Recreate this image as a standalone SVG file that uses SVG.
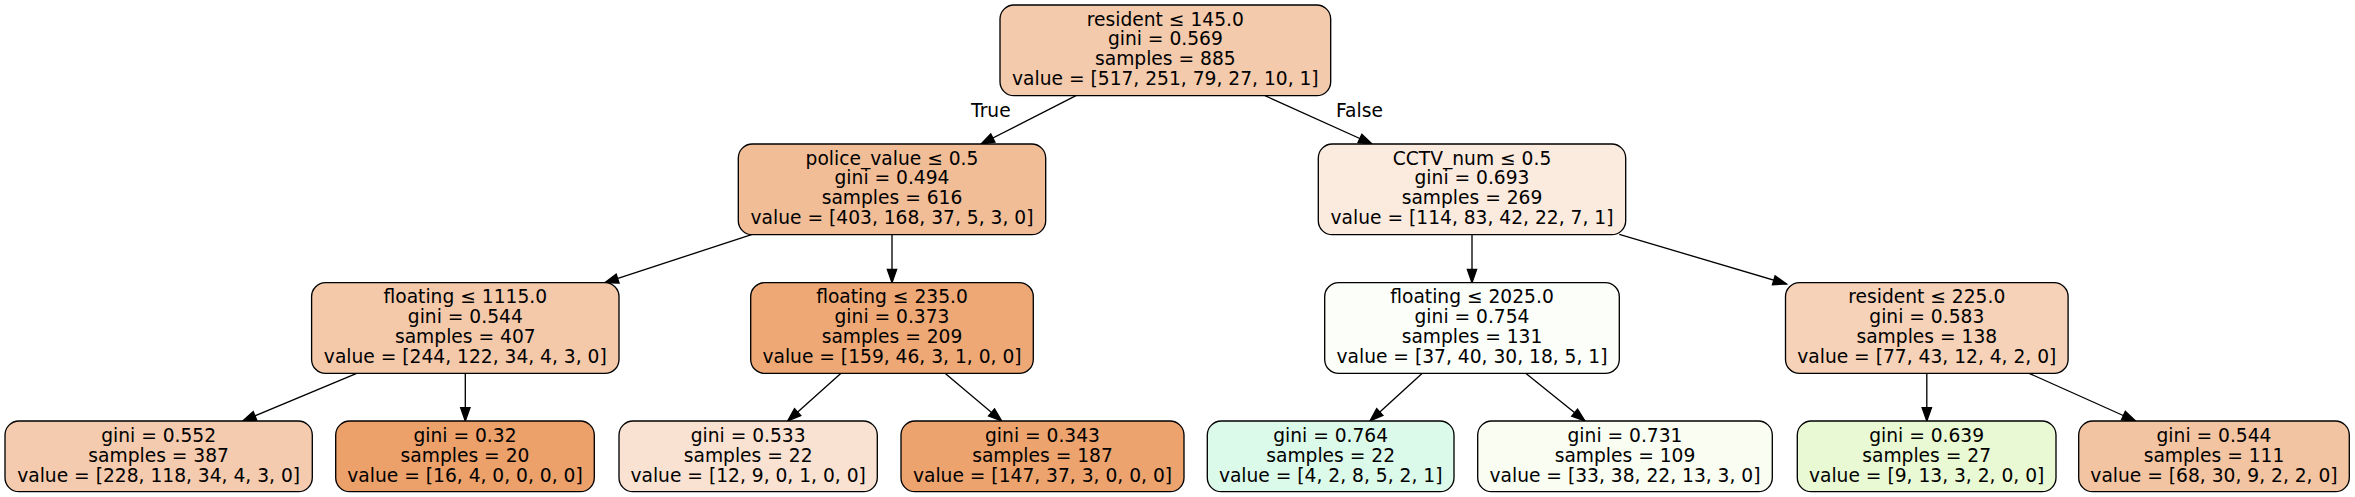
<svg xmlns="http://www.w3.org/2000/svg" width="2355" height="497" viewBox="0 0 2355 497">
<defs>
<style>
.box{stroke:#000;stroke-width:1.33}
text{font-family:"DejaVu Sans","Liberation Sans",sans-serif;font-size:18.67px;fill:#000;text-anchor:middle}
.edge line{stroke:#000;stroke-width:1.33;marker-end:url(#arr)}
</style>
<marker id="arr" markerUnits="userSpaceOnUse" markerWidth="16" markerHeight="12" refX="13.3" refY="4.67" orient="auto" overflow="visible">
<path d="M0,0 L13.3,4.67 L0,9.33 z" fill="#000" stroke="#000" stroke-width="1.33"/>
</marker>
</defs>
<rect width="2355" height="497" fill="#fff"/>
<g id="edges" class="edge">
<line x1="1076" y1="95.7" x2="981" y2="144"/>
<line x1="1265" y1="95.7" x2="1372" y2="144"/>
<line x1="752.3" y1="234.3" x2="605" y2="282.7"/>
<line x1="892" y1="234.7" x2="892" y2="282.7"/>
<line x1="1472" y1="234.7" x2="1472" y2="282.7"/>
<line x1="1619.3" y1="234.3" x2="1786.5" y2="284"/>
<line x1="356.7" y1="373.3" x2="242.7" y2="421"/>
<line x1="465.3" y1="373.3" x2="465.3" y2="421"/>
<line x1="841" y1="373.3" x2="787.7" y2="421"/>
<line x1="945" y1="373.3" x2="1001.7" y2="421"/>
<line x1="1422.3" y1="373.3" x2="1370" y2="421"/>
<line x1="1525.7" y1="373.3" x2="1585" y2="421"/>
<line x1="1926.8" y1="373.3" x2="1926.8" y2="421"/>
<line x1="2029" y1="373.3" x2="2135.5" y2="421"/>
<text x="990.8" y="117.3">True</text>
<text x="1359.5" y="117.3">False</text>
</g>
<g id="n0">
<rect class="box" x="1000" y="5" width="330.7" height="90.7" rx="14" fill="#f4caac"/>
<text x="1165.35" y="25.5">resident ≤ 145.0</text>
<text x="1165.35" y="45.3">gini = 0.569</text>
<text x="1165.35" y="65.1">samples = 885</text>
<text x="1165.35" y="84.9">value = [517, 251, 79, 27, 10, 1]</text>
</g>
<g id="n1">
<rect class="box" x="738.3" y="144" width="307.4" height="90.7" rx="14" fill="#f1bd97"/>
<text x="892" y="164.5">police_value ≤ 0.5</text>
<text x="892" y="184.3">gini = 0.494</text>
<text x="892" y="204.1">samples = 616</text>
<text x="892" y="223.9">value = [403, 168, 37, 5, 3, 0]</text>
</g>
<g id="n8">
<rect class="box" x="1318.3" y="144" width="307.4" height="90.7" rx="14" fill="#fbeade"/>
<text x="1472" y="164.5">CCTV_num ≤ 0.5</text>
<text x="1472" y="184.3">gini = 0.693</text>
<text x="1472" y="204.1">samples = 269</text>
<text x="1472" y="223.9">value = [114, 83, 42, 22, 7, 1]</text>
</g>
<g id="n2">
<rect class="box" x="311.6" y="282.7" width="307.4" height="90.7" rx="14" fill="#f4c9aa"/>
<text x="465.3" y="303.2">floating ≤ 1115.0</text>
<text x="465.3" y="323">gini = 0.544</text>
<text x="465.3" y="342.8">samples = 407</text>
<text x="465.3" y="362.6">value = [244, 122, 34, 4, 3, 0]</text>
</g>
<g id="n5">
<rect class="box" x="750.7" y="282.7" width="282.6" height="90.7" rx="14" fill="#eda876"/>
<text x="892" y="303.2">floating ≤ 235.0</text>
<text x="892" y="323">gini = 0.373</text>
<text x="892" y="342.8">samples = 209</text>
<text x="892" y="362.6">value = [159, 46, 3, 1, 0, 0]</text>
</g>
<g id="n9">
<rect class="box" x="1324.7" y="282.7" width="294.6" height="90.7" rx="14" fill="#fcfef9"/>
<text x="1472" y="303.2">floating ≤ 2025.0</text>
<text x="1472" y="323">gini = 0.754</text>
<text x="1472" y="342.8">samples = 131</text>
<text x="1472" y="362.6">value = [37, 40, 30, 18, 5, 1]</text>
</g>
<g id="n12">
<rect class="box" x="1785.5" y="282.7" width="282.6" height="90.7" rx="14" fill="#f6d2b8"/>
<text x="1926.8" y="303.2">resident ≤ 225.0</text>
<text x="1926.8" y="323">gini = 0.583</text>
<text x="1926.8" y="342.8">samples = 138</text>
<text x="1926.8" y="362.6">value = [77, 43, 12, 4, 2, 0]</text>
</g>
<g id="n3">
<rect class="box" x="5" y="421" width="307.3" height="70.7" rx="14" fill="#f4cbae"/>
<text x="158.65" y="442.2">gini = 0.552</text>
<text x="158.65" y="461.9">samples = 387</text>
<text x="158.65" y="481.6">value = [228, 118, 34, 4, 3, 0]</text>
</g>
<g id="n4">
<rect class="box" x="335.7" y="421" width="258.6" height="70.7" rx="14" fill="#eca06a"/>
<text x="465" y="442.2">gini = 0.32</text>
<text x="465" y="461.9">samples = 20</text>
<text x="465" y="481.6">value = [16, 4, 0, 0, 0, 0]</text>
</g>
<g id="n6">
<rect class="box" x="619" y="421" width="258.3" height="70.7" rx="14" fill="#f9e2d1"/>
<text x="748.15" y="442.2">gini = 0.533</text>
<text x="748.15" y="461.9">samples = 22</text>
<text x="748.15" y="481.6">value = [12, 9, 0, 1, 0, 0]</text>
</g>
<g id="n7">
<rect class="box" x="901" y="421" width="283" height="70.7" rx="14" fill="#eca36e"/>
<text x="1042.5" y="442.2">gini = 0.343</text>
<text x="1042.5" y="461.9">samples = 187</text>
<text x="1042.5" y="481.6">value = [147, 37, 3, 0, 0, 0]</text>
</g>
<g id="n10">
<rect class="box" x="1207.3" y="421" width="246.7" height="70.7" rx="14" fill="#dcfae9"/>
<text x="1330.65" y="442.2">gini = 0.764</text>
<text x="1330.65" y="461.9">samples = 22</text>
<text x="1330.65" y="481.6">value = [4, 2, 8, 5, 2, 1]</text>
</g>
<g id="n11">
<rect class="box" x="1477.7" y="421" width="294.6" height="70.7" rx="14" fill="#f9fdf2"/>
<text x="1625" y="442.2">gini = 0.731</text>
<text x="1625" y="461.9">samples = 109</text>
<text x="1625" y="481.6">value = [33, 38, 22, 13, 3, 0]</text>
</g>
<g id="n13">
<rect class="box" x="1797.3" y="421" width="258.7" height="70.7" rx="14" fill="#e9f9d3"/>
<text x="1926.65" y="442.2">gini = 0.639</text>
<text x="1926.65" y="461.9">samples = 27</text>
<text x="1926.65" y="481.6">value = [9, 13, 3, 2, 0, 0]</text>
</g>
<g id="n14">
<rect class="box" x="2078.7" y="421" width="270.6" height="70.7" rx="14" fill="#f3c4a2"/>
<text x="2214" y="442.2">gini = 0.544</text>
<text x="2214" y="461.9">samples = 111</text>
<text x="2214" y="481.6">value = [68, 30, 9, 2, 2, 0]</text>
</g>
</svg>
